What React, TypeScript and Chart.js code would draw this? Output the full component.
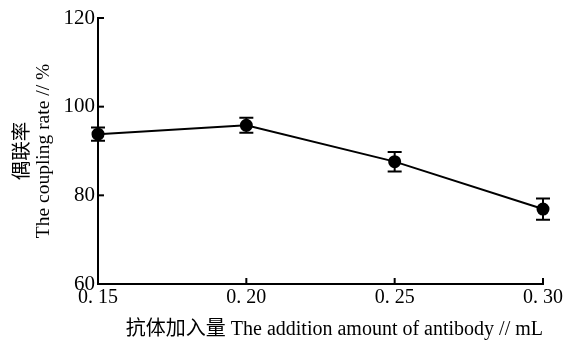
import React, { useEffect, useRef } from "react";
import { Chart, registerables } from "chart.js";

Chart.register(...registerables);

const xValues = [0.15, 0.2, 0.25, 0.3];
const yValues = [93.8, 95.8, 87.6, 76.9];
const yErrors = [1.5, 1.7, 2.2, 2.4];
const xTickLabels = ["0. 15", "0. 20", "0. 25", "0. 30"];
const yTickValues = [60, 80, 100, 120];
const yTitleLines = ["偶联率", "The coupling rate // %"];
const xTitle = "抗体加入量 The addition amount of antibody // mL";

const FONT = "'Liberation Serif', 'Noto Sans CJK SC', serif";

const extrasPlugin = {
  id: "extras",
  afterDatasetsDraw(chart: any) {
    const ctx = chart.ctx;
    const xs = chart.scales.x;
    const ys = chart.scales.y;
    ctx.save();
    ctx.strokeStyle = "#000";
    ctx.lineWidth = 2;
    // error bars
    xValues.forEach((xv, i) => {
      const px = xs.getPixelForValue(xv);
      const top = ys.getPixelForValue(yValues[i] + yErrors[i]);
      const bot = ys.getPixelForValue(yValues[i] - yErrors[i]);
      ctx.beginPath();
      ctx.moveTo(px, top);
      ctx.lineTo(px, bot);
      ctx.moveTo(px - 7, top);
      ctx.lineTo(px + 7, top);
      ctx.moveTo(px - 7, bot);
      ctx.lineTo(px + 7, bot);
      ctx.stroke();
    });
    // inward ticks
    const left = chart.chartArea.left;
    const bottom = chart.chartArea.bottom;
    yTickValues.forEach((v) => {
      const py = ys.getPixelForValue(v);
      ctx.beginPath();
      ctx.moveTo(left, py);
      ctx.lineTo(left + 6, py);
      ctx.stroke();
    });
    xValues.forEach((v) => {
      const px = xs.getPixelForValue(v);
      ctx.beginPath();
      ctx.moveTo(px, bottom);
      ctx.lineTo(px, bottom - 6);
      ctx.stroke();
    });
    ctx.restore();
  },
};

export default function App() {
  const ref = useRef<HTMLCanvasElement>(null);
  useEffect(() => {
    document.body.style.margin = "0";
    const chart = new Chart(ref.current!, {
      type: "line",
      data: {
        datasets: [
          {
            data: xValues.map((x, i) => ({ x, y: yValues[i] })),
            borderColor: "#000",
            backgroundColor: "#000",
            borderWidth: 2,
            pointRadius: 5.5,
            pointBackgroundColor: "#000",
            pointBorderColor: "#000",
            tension: 0,
            clip: false as any,
          },
        ],
      },
      options: {
        responsive: false,
        animation: false,
        devicePixelRatio: 1,
        layout: { padding: { top: 18, right: 29, left: 0, bottom: 0 } },
        plugins: { legend: { display: false }, tooltip: { enabled: false } },
        scales: {
          x: {
            type: "linear",
            min: 0.15,
            max: 0.3,
            afterFit: (s: any) => {
              s.height = 56;
            },
            afterBuildTicks: (s: any) => {
              s.ticks = xValues.map((v) => ({ value: v }));
            },
            ticks: {
              color: "#000",
              padding: 2,
              font: { family: FONT, size: 20 },
              callback: (_v: any, i: number) => xTickLabels[i],
            },
            grid: { display: false, drawTicks: false },
            border: { display: true, color: "#000", width: 2 },
            title: {
              display: true,
              text: xTitle,
              align: "end",
              color: "#000",
              font: { family: FONT, size: 20, lineHeight: 1.0 },
              padding: { top: 0, bottom: 0 },
            },
          },
          y: {
            min: 60,
            max: 120,
            afterFit: (s: any) => {
              s.width = 98;
            },
            afterBuildTicks: (s: any) => {
              s.ticks = yTickValues.map((v) => ({ value: v }));
            },
            ticks: {
              color: "#000",
              padding: 3,
              font: { family: FONT, size: 21 },
            },
            grid: { display: false, drawTicks: false },
            border: { display: true, color: "#000", width: 2 },
            title: {
              display: true,
              text: yTitleLines,
              color: "#000",
              font: { family: FONT, size: 19.5, lineHeight: 1.1 },
              padding: { top: 12, bottom: 0 },
            },
          },
        },
      },
      plugins: [extrasPlugin],
    });
    return () => chart.destroy();
  }, []);
  return (
    <div style={{ position: "absolute", left: 0, top: 0, width: 572, height: 340, background: "#fff" }}>
      <canvas ref={ref} width={572} height={340} />
    </div>
  );
}
